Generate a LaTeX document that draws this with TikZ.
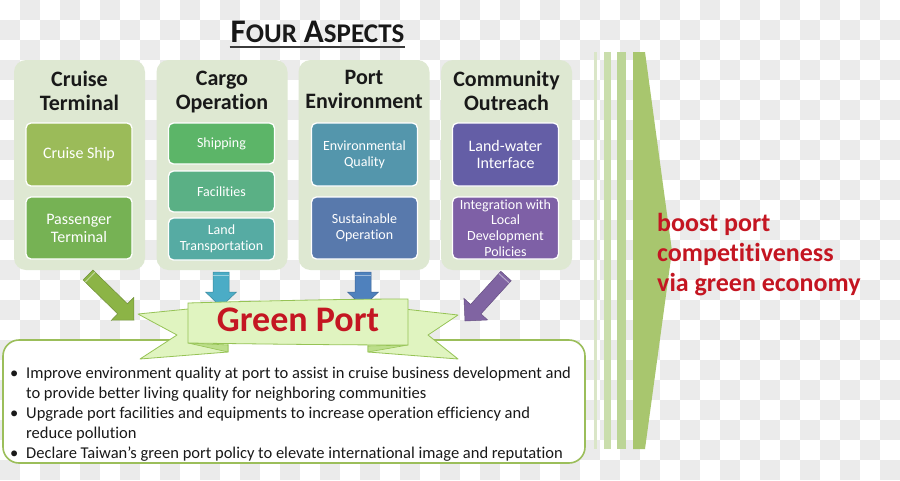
\documentclass[tikz,border=0pt]{standalone}
\usepackage{fontspec}
\setmainfont{Carlito}[Ligatures=NoCommon]
\usetikzlibrary{calc}
\definecolor{chk}{RGB}{235,235,235}
\definecolor{panelg}{RGB}{222,232,210}
\definecolor{cship}{RGB}{155,187,89}
\definecolor{pterm}{RGB}{118,178,84}
\definecolor{shipc}{RGB}{92,181,104}
\definecolor{facc}{RGB}{90,176,133}
\definecolor{landc}{RGB}{86,171,163}
\definecolor{envc}{RGB}{84,150,172}
\definecolor{susc}{RGB}{88,121,172}
\definecolor{lwc}{RGB}{100,94,166}
\definecolor{intc}{RGB}{126,96,166}
\definecolor{arrg}{RGB}{140,180,70}
\definecolor{arrc}{RGB}{75,172,198}
\definecolor{arrb}{RGB}{79,129,189}
\definecolor{arrp}{RGB}{128,100,162}
\definecolor{ribf}{RGB}{224,244,192}
\definecolor{ribd}{RGB}{150,195,85}
\definecolor{ribfold}{RGB}{188,222,138}
\definecolor{redt}{RGB}{196,22,34}
\definecolor{boxg}{RGB}{155,190,90}
\definecolor{sa}{RGB}{218,230,200}
\definecolor{sb}{RGB}{202,222,172}
\definecolor{sc}{RGB}{188,213,150}
\definecolor{sd}{RGB}{168,198,110}
\definecolor{txt}{RGB}{25,25,25}
\newcommand{\fs}[2]{\fontsize{#1}{#2}\selectfont}
\newcommand{\blockarr}[7]{%
  \coordinate (#7) at ($(#3)!#6!(#2)$);
  \coordinate (#7t) at ($(#2)!3pt!(#3)$);
  \filldraw[#1] ($(#2)!#4!90:(#3)$) -- ($(#7)!#4!90:(#3)$) -- ($(#7)!#5!90:(#3)$) -- (#3)
    -- ($(#7)!#5!-90:(#3)$) -- ($(#7)!#4!-90:(#3)$) -- ($(#2)!#4!-90:(#3)$) -- cycle;
  \draw[white, opacity=.45, line width=1pt] ($(#7t)!#4!90:(#3)$) -- ($(#7t)!#4!-90:(#3)$);
}
\tikzset{
  panel/.style={rounded corners=12pt, fill=panelg, minimum width=131pt, minimum height=210pt, inner sep=0},
  phead/.style={font=\bfseries\fs{22}{24}, text=txt, align=center, inner sep=0, anchor=north},
  innerbox/.style={rounded corners=5pt, draw=white, line width=1.3pt, text=white, minimum width=106pt, align=center, inner sep=0},
  bl/.style={font=\fs{16.5}{20}, text=txt, anchor=base west, inner sep=0},
}
\begin{document}
\begin{tikzpicture}[x=1pt,y=-1pt]
\useasboundingbox (0,0) rectangle (900,480);
% checker background
\fill[white] (0,0) rectangle (900,480);
\foreach \i in {1,3,...,43} \foreach \j in {0,2,...,22} \fill[chk] (20*\i,20*\j) rectangle +(20,20);
\foreach \i in {0,2,...,44} \foreach \j in {1,3,...,23} \fill[chk] (20*\i,20*\j) rectangle +(20,20);

% title
\node[anchor=base, inner sep=0, font=\bfseries, text=txt] (title) at (317.5,42)
  {{\fs{33}{33}F}{\fs{27}{27}OUR}\hspace{7pt}{\fs{33}{33}A}{\fs{27}{27}SPECTS}};
\draw[txt!85, line width=1.6pt] ($(title.base west)+(-1,5)$) -- ($(title.base east)+(1,5)$);

% panels
\node[panel] (p1) at (79.5,165) {};
\node[panel] (p2) at (222,165) {};
\node[panel] (p3) at (364,165) {};
\node[panel] (p4) at (506.5,165) {};
\node[phead] (h1) at (79.5,70.5) {Cruise\\Terminal};
\node[phead] (h2) at (222,70.5) {Cargo\\Operation};
\node[phead] (h3) at (364,70.5) {Port\\Environment};
\node[phead] (h4) at (506.5,70.5) {Community\\Outreach};

% inner boxes
\node[innerbox, fill=cship, minimum height=63pt, font=\fs{16}{18}] (b11) at (79,154.5) {Cruise Ship};
\node[innerbox, fill=pterm, minimum height=62pt, font=\fs{16}{18}] (b12) at (79,228) {Passenger\\Terminal};
\node[innerbox, fill=shipc, minimum height=41pt, font=\fs{14}{16}] (b21) at (221.5,143.5) {Shipping};
\node[innerbox, fill=facc, minimum height=41pt, font=\fs{14}{16}] (b22) at (221.5,191.5) {Facilities};
\node[innerbox, fill=landc, minimum height=42pt, font=\fs{14}{16}] (b23) at (221.5,239) {Land\\Transportation};
\node[innerbox, fill=envc, minimum height=63pt, font=\fs{14}{16}] (b31) at (364.5,154.5) {Environmental\\Quality};
\node[innerbox, fill=susc, minimum height=62pt, font=\fs{14}{16}] (b32) at (364.5,228) {Sustainable\\Operation};
\node[innerbox, fill=lwc, minimum height=63pt, font=\fs{16}{17.5}] (b41) at (505.5,154.5) {Land-water\\Interface};
\node[innerbox, fill=intc, minimum height=62pt, font=\fs{14}{15.7}] (b42) at (505.5,228) {Integration with\\Local\\Development\\Policies};

% bullet box
\node[rounded corners=16pt, draw=boxg, line width=1.6pt, fill=white, minimum width=582pt, minimum height=123pt, inner sep=0] (bx) at (294,401.5) {};
\node[bl] (l1) at (10,378) {\makebox[16pt][l]{\textbullet}Improve environment quality at port to assist in cruise business development and};
\node[bl] (l2) at (26,398) {to provide better living quality for neighboring communities};
\node[bl] (l3) at (10,418) {\makebox[16pt][l]{\textbullet}Upgrade port facilities and equipments to increase operation efficiency and};
\node[bl] (l4) at (26,438) {reduce pollution};
\node[bl] (l5) at (10,458) {\makebox[16pt][l]{\textbullet}Declare Taiwan’s green port policy to elevate international image and reputation};

% arrows
\coordinate (ag1) at (88,275); \coordinate (ag2) at (134,320);
\coordinate (ac1) at (221,272); \coordinate (ac2) at (221,307);
\coordinate (ab1) at (363,272); \coordinate (ab2) at (363,307);
\coordinate (ap1) at (506,276); \coordinate (ap2) at (465,321);
\blockarr{fill=arrg, draw=arrg!80!black, line width=.5pt}{ag1}{ag2}{7pt}{16pt}{16pt}{agb}
\blockarr{fill=arrc, draw=arrc!80!black, line width=.5pt}{ac1}{ac2}{8pt}{15.5pt}{15pt}{acb}
\blockarr{fill=arrb, draw=arrb!80!black, line width=.5pt}{ab1}{ab2}{8pt}{15.5pt}{15pt}{abb}
\blockarr{fill=arrp, draw=arrp!80!black, line width=.5pt}{ap1}{ap2}{7pt}{16pt}{16pt}{apb}

% ribbon
\filldraw[fill=ribf, draw=ribd, line width=.8pt, line join=round] (138,314) -- (228,305) -- (228,352) -- (140,359) -- (177,335) -- cycle;
\filldraw[fill=ribf, draw=ribd, line width=.8pt, line join=round] (458,315) -- (368,305) -- (368,352) -- (458,359) -- (428,335) -- cycle;
\filldraw[fill=ribfold, draw=ribd, line width=.6pt] (188,343) -- (228,352) -- (228,345) -- cycle;
\filldraw[fill=ribfold, draw=ribd, line width=.6pt] (408,345) -- (368,352) -- (368,346) -- cycle;
\filldraw[fill=ribf, draw=ribd, line width=.8pt] (188,303) .. controls (260,301) and (340,299) .. (408,299) -- (408,345) .. controls (340,345) and (260,344) .. (188,343) -- cycle;
\node[font=\bfseries\fs{36}{36}, text=redt, inner sep=0] (gp) at (298,320) {Green Port};

% right stripes and chevron
\fill[sa] (594,52) rectangle (597,449);
\fill[sb] (604,52) rectangle (611,449);
\fill[sc] (617,52) rectangle (626,449);
\fill[sd] (633,52) -- (645,52) -- (672,251) -- (645,449) -- (633,449) -- cycle;
\node[font=\bfseries\fs{26}{30}, text=redt, align=left, inner sep=0, anchor=west] (goal) at (657,254.5)
  {boost port\\competitiveness\\via green economy};
\end{tikzpicture}
\end{document}
